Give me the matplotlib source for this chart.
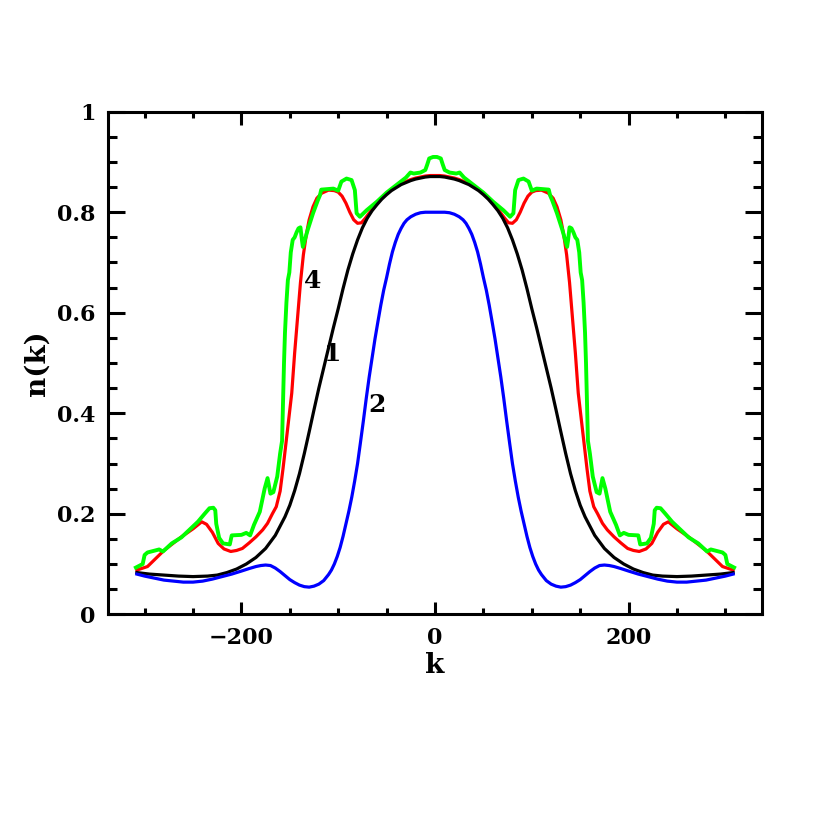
import numpy as np
import matplotlib
matplotlib.use("Agg")
import matplotlib.pyplot as plt
from matplotlib.ticker import MultipleLocator, FixedLocator

# curves are symmetric in k, values read for k <= 0 and mirrored
k_black = [-308, -295, -280, -265, -250, -235, -225, -215, -205, -195, -185, -175, -165,
           -155, -150, -145, -140, -135, -130, -125, -120, -115, -110, -105, -100, -95,
           -90, -85, -80, -75, -70, -65, -60, -55, -50, -45, -40, -35, -30, -25, -20,
           -15, -10, -5, 0]
n_black = [0.083, 0.080, 0.078, 0.076, 0.075, 0.076, 0.078, 0.083, 0.090, 0.100, 0.113, 0.131, 0.157,
           0.194, 0.217, 0.246, 0.280, 0.320, 0.363, 0.407, 0.450, 0.490, 0.530, 0.570, 0.608, 0.648,
           0.685, 0.717, 0.745, 0.769, 0.788, 0.803, 0.815, 0.826, 0.835, 0.843, 0.849, 0.855, 0.859,
           0.863, 0.866, 0.868, 0.870, 0.871, 0.871]

k_blue = [-308, -300, -290, -280, -270, -260, -250, -240, -230, -220, -210, -200, -192,
          -185, -180, -175, -170, -165, -160, -155, -150, -145, -140, -135, -130, -125,
          -120, -115, -110, -107, -104, -101, -98, -95, -92, -89, -86, -83, -80, -77,
          -74, -71, -68, -65, -62, -59, -56, -53, -50, -47, -44, -41, -38, -35, -32,
          -29, -25, -20, -15, -10, 0]
n_blue = [0.080, 0.076, 0.072, 0.068, 0.066, 0.064, 0.064, 0.066, 0.070, 0.075, 0.080, 0.086, 0.091,
          0.095, 0.097, 0.098, 0.097, 0.092, 0.085, 0.077, 0.069, 0.063, 0.058, 0.055, 0.054, 0.056,
          0.060, 0.067, 0.079, 0.088, 0.100, 0.115, 0.133, 0.155, 0.180, 0.205, 0.233, 0.265, 0.300, 0.342,
          0.385, 0.430, 0.472, 0.510, 0.548, 0.582, 0.615, 0.645, 0.670, 0.697, 0.721, 0.740, 0.756, 0.768,
          0.778, 0.785, 0.791, 0.796, 0.799, 0.800, 0.800]

k_red = [-308, -297, -280, -262, -250, -241, -236, -230, -224, -218, -211, -205, -199,
         -192, -185, -178, -173, -168, -164, -160, -157, -154, -151, -148, -145, -142,
         -139, -136, -133, -130, -126, -122, -117, -110, -104, -100, -96, -92, -88, -84,
         -80, -76, -72, -67, -60, -55, -50, -45, -40, -35, -30, -25, -20, -15, -10, -5, 0]
n_red = [0.088, 0.095, 0.127, 0.154, 0.170, 0.184, 0.179, 0.163, 0.141, 0.130, 0.125, 0.127, 0.131,
         0.142, 0.154, 0.168, 0.181, 0.200, 0.214, 0.245, 0.290, 0.340, 0.390, 0.440, 0.520, 0.590,
         0.660, 0.715, 0.755, 0.785, 0.811, 0.828, 0.838, 0.844, 0.843, 0.840, 0.832, 0.818, 0.800, 0.785,
         0.778, 0.779, 0.788, 0.801, 0.818, 0.828, 0.838, 0.845, 0.851, 0.857, 0.861, 0.865, 0.868,
         0.870, 0.872, 0.873, 0.873]

k_green = [-309, -302, -300, -297, -291, -285, -281, -272, -262, -245, -238, -233, -229,
           -227, -226, -223, -219, -212, -210, -200, -195, -191, -187, -181, -176, -173,
           -170, -167, -163, -160, -158, -157, -156, -155, -153.5, -152, -150.5, -149, -147,
           -145, -143, -141, -139, -137.5, -136.5, -134, -131.5, -126, -121, -119, -117.5,
           -105, -100, -96.7, -91.4, -86.2, -82.8, -81, -77.6, -70.6, -60, -50, -40, -30,
           -25.4, -22, -15, -10, -8, -6, -2, 0]
n_green = [0.093, 0.100, 0.118, 0.123, 0.126, 0.129, 0.125, 0.141, 0.153, 0.184, 0.200, 0.211, 0.212,
           0.207, 0.180, 0.152, 0.141, 0.139, 0.157, 0.158, 0.162, 0.157, 0.178, 0.204, 0.250, 0.271,
           0.240, 0.243, 0.274, 0.320, 0.345, 0.420, 0.500, 0.560, 0.620, 0.665, 0.680, 0.720, 0.745,
           0.750, 0.760, 0.768, 0.770, 0.745, 0.731, 0.748, 0.765, 0.798, 0.824, 0.833, 0.845,
           0.847, 0.843, 0.861, 0.867, 0.864, 0.844, 0.798, 0.791, 0.804, 0.821, 0.839, 0.854, 0.869,
           0.879, 0.877, 0.879, 0.884, 0.895, 0.907, 0.910, 0.910]

curve_labels = ["4", "1", "2"]
label_k = [-126, -106, -60]
label_n = [0.663, 0.517, 0.416]

x_ticks = [-200, 0, 200]
x_ticklabels = ["\u2212200", "0", "200"]
y_ticks = [0, 0.2, 0.4, 0.6, 0.8, 1.0]
y_ticklabels = ["0", "0.2", "0.4", "0.6", "0.8", "1"]


def mirror(k, n):
    k = np.asarray(k, dtype=float)
    n = np.asarray(n, dtype=float)
    return np.concatenate([k, -k[-2::-1]]), np.concatenate([n, n[-2::-1]])


plt.rcParams['font.family'] = ['DejaVu Serif']
plt.rcParams['font.weight'] = 'bold'

fig = plt.figure(figsize=(8.3, 8.3), dpi=100)
ax = fig.add_axes([0.1305, 0.2599, 0.7872, 0.6055])

lw = 2.3
ax.plot(*mirror(k_red, n_red), color='#ff0000', lw=lw, zorder=2)
ax.plot(*mirror(k_green, n_green), color='#00ff00', lw=2.8, zorder=3)
ax.plot(*mirror(k_black, n_black), color='black', lw=lw, zorder=4)
ax.plot(*mirror(k_blue, n_blue), color='#0000ff', lw=lw, zorder=5)

for txt, kx, ny in zip(curve_labels, label_k, label_n):
    ax.text(kx, ny, txt, fontsize=18, fontweight='bold', ha='center', va='center')

ax.set_xlim(-337.5, 337.5)
ax.set_ylim(0, 1)

ax.xaxis.set_major_locator(FixedLocator(x_ticks))
ax.set_xticklabels(x_ticklabels)
ax.xaxis.set_minor_locator(MultipleLocator(50))
ax.yaxis.set_major_locator(FixedLocator(y_ticks))
ax.set_yticklabels(y_ticklabels)
ax.yaxis.set_minor_locator(MultipleLocator(0.05))

ax.tick_params(axis='both', which='both', direction='in', top=True, right=True,
               width=2.2, labelsize=16)
ax.tick_params(axis='x', which='major', length=9, pad=9)
ax.tick_params(axis='x', which='minor', length=4.5)
ax.tick_params(axis='y', which='major', length=12.5, pad=9)
ax.tick_params(axis='y', which='minor', length=6.5)
for sp in ax.spines.values():
    sp.set_linewidth(2.2)

ax.set_xlabel('k', fontsize=20, fontweight='bold', labelpad=2)
ax.set_ylabel('n(k)', fontsize=20, fontweight='bold', labelpad=5)

fig.savefig('out.png', dpi=100)
